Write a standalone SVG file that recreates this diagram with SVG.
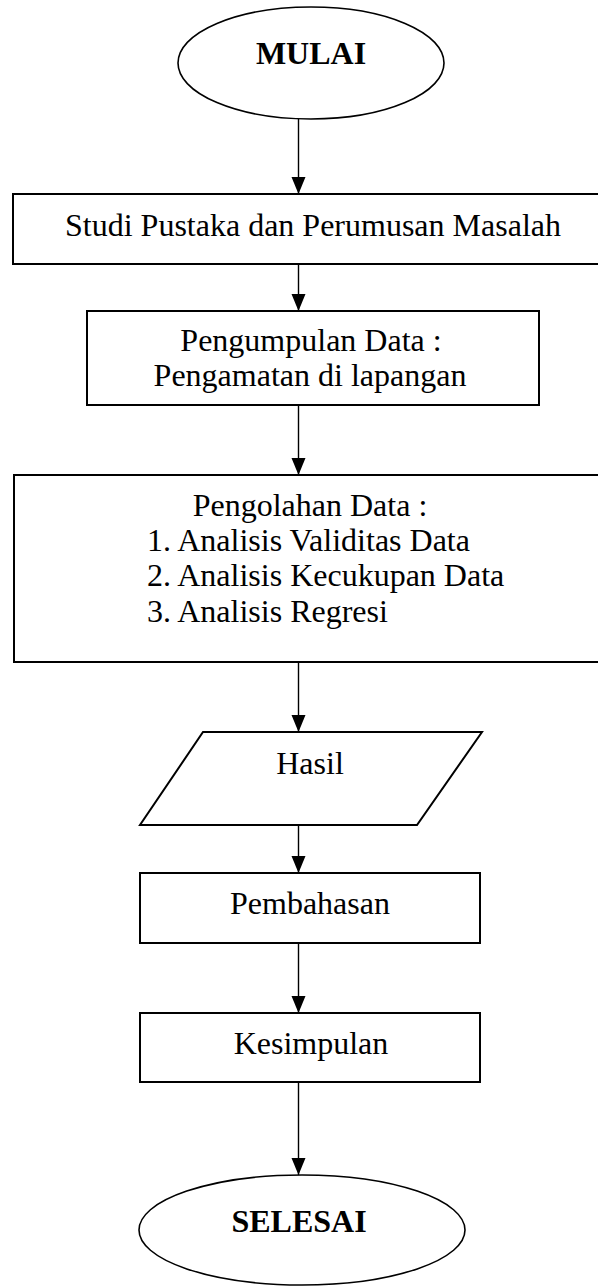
<svg xmlns="http://www.w3.org/2000/svg" width="598" height="1286" viewBox="0 0 598 1286">
<style>
.box{fill:#fff;stroke:#000;stroke-width:2}
.term{fill:#fff;stroke:#000;stroke-width:1.6}
.lbl{font-family:"Liberation Serif","Times New Roman",serif;font-size:32px;fill:#000}
.c{text-anchor:middle}
.b{font-weight:bold}
.conn line{stroke:#000;stroke-width:1.4}
</style>
<defs>
<marker id="ah" markerUnits="userSpaceOnUse" markerWidth="18" markerHeight="16" refX="17" refY="7" orient="auto">
<path d="M0,0 L17,7 L0,14 z" fill="#000"/>
</marker>
</defs>
<rect width="598" height="1286" fill="#fff"/>
<g id="mulai">
<ellipse class="term" cx="311" cy="63" rx="133" ry="56"/>
<text class="lbl c b" x="311" y="64">MULAI</text>
</g>
<g id="studi">
<rect class="box" x="13" y="194" width="590" height="70"/>
<text class="lbl c" x="313" y="236">Studi Pustaka dan Perumusan Masalah</text>
</g>
<g id="pengumpulan">
<rect class="box" x="87" y="311" width="452" height="94"/>
<text class="lbl c" x="311" y="351">Pengumpulan Data :</text>
<text class="lbl c" x="310" y="386">Pengamatan di lapangan</text>
</g>
<g id="pengolahan">
<rect class="box" x="14" y="475" width="590" height="187"/>
<text class="lbl c" x="310" y="516">Pengolahan Data :</text>
<text class="lbl" x="147" y="551">1. Analisis Validitas Data</text>
<text class="lbl" x="147" y="586">2. Analisis Kecukupan Data</text>
<text class="lbl" x="147" y="622">3. Analisis Regresi</text>
</g>
<g id="hasil">
<polygon class="box" points="203,732 482,732 417,825 140,825"/>
<text class="lbl c" x="310" y="774">Hasil</text>
</g>
<g id="pembahasan">
<rect class="box" x="140" y="873" width="340" height="70"/>
<text class="lbl c" x="310" y="914">Pembahasan</text>
</g>
<g id="kesimpulan">
<rect class="box" x="140" y="1013" width="340" height="69"/>
<text class="lbl c" x="311" y="1054">Kesimpulan</text>
</g>
<g id="selesai">
<ellipse class="term" cx="302" cy="1230" rx="163" ry="55"/>
<text class="lbl c b" x="299" y="1232">SELESAI</text>
</g>
<g id="connectors" class="conn">
<line x1="298.5" y1="119" x2="298.5" y2="194" marker-end="url(#ah)"/>
<line x1="298.5" y1="264" x2="298.5" y2="311" marker-end="url(#ah)"/>
<line x1="298.5" y1="405" x2="298.5" y2="475" marker-end="url(#ah)"/>
<line x1="298.5" y1="662" x2="298.5" y2="732" marker-end="url(#ah)"/>
<line x1="298.5" y1="825" x2="298.5" y2="873" marker-end="url(#ah)"/>
<line x1="298.5" y1="943" x2="298.5" y2="1013" marker-end="url(#ah)"/>
<line x1="298.5" y1="1082" x2="298.5" y2="1175" marker-end="url(#ah)"/>
</g>
</svg>
